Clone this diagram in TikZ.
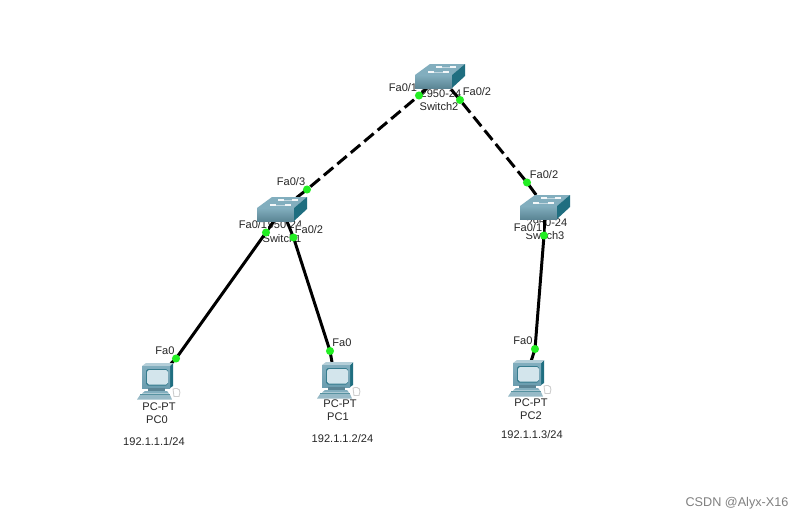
\documentclass[tikz,border=0pt]{standalone}
\usepackage{fontspec}
\setmainfont{Liberation Sans}
\definecolor{swfront}{HTML}{6B9DAF}
\definecolor{swtop}{HTML}{82AEBE}
\definecolor{swside}{HTML}{1F6E80}
\definecolor{pcscreen}{HTML}{D3E5EC}
\definecolor{portgreen}{HTML}{22EE22}

\tikzset{
  trunk/.style={line width=1.7pt, dash pattern=on 7pt off 3pt},
  access/.style={line width=1.7pt},
  port/.style={circle, fill=portgreen, inner sep=0pt, minimum size=4.6pt},
  tag/.style={font=\fontsize{6.3}{7}\selectfont, inner sep=0.6pt, text=black!85},
  ptag/.style={tag, fill=white},
  pics/switchicon/.style={code={
    \fill[swtop] (-0.5, 0.02) -- (-0.2, 0.24) -- (0.5, 0.24) -- (0.24, 0.02) -- cycle;
    \shade[top color=swtop, bottom color=swfront!85!black] (-0.5, 0.02) rectangle (0.24, -0.24);
    \fill[swside] (0.24, 0.02) -- (0.5, 0.24) -- (0.5, 0) -- (0.24, -0.24) -- cycle;
    \draw[white!50!swtop, line width=0.4pt] (-0.2, 0.08) -- (0.14, 0.08);
    \draw[white!50!swtop, line width=0.4pt] (-0.04, 0.18) -- (0.28, 0.18);
    \fill[white!90!swtop] (-0.24, 0.06) rectangle (-0.12, 0.1);
    \fill[white!90!swtop] (0.06, 0.06) rectangle (0.18, 0.1);
    \fill[white!90!swtop] (-0.08, 0.16) rectangle (0.04, 0.2);
    \fill[white!90!swtop] (0.2, 0.16) rectangle (0.32, 0.2);
  }},
  pics/pcicon/.style={code={
    \fill[swside] (0.3, 0.28) -- (0.36, 0.34) -- (0.36, -0.12) -- (0.3, -0.16) -- cycle;
    \fill[swtop!60!white] (-0.26, 0.28) -- (-0.18, 0.34) -- (0.36, 0.34) -- (0.3, 0.28) -- cycle;
    \shade[top color=swtop, bottom color=swfront] (-0.26, 0.28) rectangle (0.3, -0.16);
    \fill[swside!70!swfront, rounded corners=1pt] (-0.18, 0.22) rectangle (0.26, -0.11);
    \fill[pcscreen, rounded corners=1pt] (-0.16, 0.2) rectangle (0.26, -0.09);
    \fill[swfront!85!black] (-0.14, -0.16) rectangle (0.2, -0.22);
    \fill[swtop] (-0.2, -0.22) -- (0.24, -0.22) -- (0.28, -0.27) -- (-0.26, -0.27) -- cycle;
    \fill[swside!75!white] (-0.3, -0.27) rectangle (0.3, -0.3);
    \fill[swfront!70!white] (-0.3, -0.3) -- (0.3, -0.3) -- (0.34, -0.39) -- (-0.36, -0.39) -- cycle;
    \draw[black!20, line width=0.5pt, fill=white] (0.36, -0.18) .. controls (0.5, -0.14) and (0.52, -0.22) .. (0.48, -0.33) -- (0.38, -0.33) -- cycle;
  }},
}

\begin{document}
\begin{tikzpicture}
  \fill[white] (0, 0) rectangle (16.04, 10.38);
  \useasboundingbox (0, 0) rectangle (16.04, 10.38);

  % devices
  \coordinate (Switch2) at (8.80, 8.86);
  \coordinate (Switch1) at (5.64, 6.20);
  \coordinate (Switch3) at (10.90, 6.24);
  \coordinate (PC0) at (3.10, 2.78);
  \coordinate (PC1) at (6.70, 2.80);
  \coordinate (PC2) at (10.52, 2.84);

  % port lights
  \coordinate (sw2a) at (8.38, 8.47);
  \coordinate (sw2b) at (9.20, 8.38);
  \coordinate (sw1c) at (6.14, 6.59);
  \coordinate (sw3b) at (10.54, 6.73);
  \coordinate (sw1a) at (5.32, 5.73);
  \coordinate (sw1b) at (5.87, 5.63);
  \coordinate (pc0a) at (3.52, 3.21);
  \coordinate (pc1a) at (6.60, 3.36);
  \coordinate (sw3a) at (10.88, 5.67);
  \coordinate (pc2a) at (10.70, 3.40);

  % device names sit under the port labels
  \node[tag] (modelSw2) at (8.82, 8.50) {2950-24};
  \node[tag] (nameSw2) at (8.78, 8.24) {Switch2};
  \node[tag] (modelSw1) at (5.64, 5.88) {2950-24};
  \node[tag] (nameSw1) at (5.64, 5.60) {Switch1};
  \node[tag] (modelSw3) at (10.94, 5.92) {2950-24};
  \node[tag] (nameSw3) at (10.90, 5.66) {Switch3};
  \node[tag] (typePc0) at (3.18, 2.24) {PC-PT};
  \node[tag] (namePc0) at (3.14, 1.98) {PC0};
  \node[tag] (typePc1) at (6.80, 2.30) {PC-PT};
  \node[tag] (namePc1) at (6.76, 2.04) {PC1};
  \node[tag] (typePc2) at (10.62, 2.32) {PC-PT};
  \node[tag] (namePc2) at (10.62, 2.06) {PC2};

  % links
  \draw[trunk] (Switch2) -- (sw2a) -- (sw1c) -- (Switch1);
  \draw[trunk] (Switch2) -- (sw2b) -- (sw3b) -- (Switch3);
  \draw[access] (Switch1) -- (sw1a) -- (pc0a) -- (PC0);
  \draw[access] (Switch1) -- (sw1b) -- (pc1a) -- (PC1);
  \draw[access] (Switch3) -- (sw3a) -- (pc2a) -- (PC2);

  % port labels
  \node[ptag] (lblSw2a) at (8.06, 8.62) {Fa0/1};
  \node[ptag] (lblSw2b) at (9.54, 8.54) {Fa0/2};
  \node[ptag] (lblSw1c) at (5.82, 6.74) {Fa0/3};
  \node[ptag] (lblSw1a) at (5.06, 5.88) {Fa0/1};
  \node[ptag] (lblSw1b) at (6.18, 5.78) {Fa0/2};
  \node[ptag] (lblSw3b) at (10.88, 6.88) {Fa0/2};
  \node[ptag] (lblSw3a) at (10.56, 5.82) {Fa0/1};
  \node[tag] (lblPc0) at (3.30, 3.36) {Fa0};
  \node[tag] (lblPc1) at (6.84, 3.52) {Fa0};
  \node[tag] (lblPc2) at (10.46, 3.56) {Fa0};

  \pic at (Switch2) {switchicon};
  \pic at (Switch1) {switchicon};
  \pic at (Switch3) {switchicon};
  \pic at (PC0) {pcicon};
  \pic at (PC1) {pcicon};
  \pic at (PC2) {pcicon};

  \foreach \p in {sw2a, sw2b, sw1c, sw3b, sw1a, sw1b, pc0a, pc1a, sw3a, pc2a}
    \node[port] (dot-\p) at (\p) {};

  % addresses
  \node[tag] (ipPc0) at (3.08, 1.54) {192.1.1.1/24};
  \node[tag] (ipPc1) at (6.85, 1.60) {192.1.1.2/24};
  \node[tag] (ipPc2) at (10.64, 1.68) {192.1.1.3/24};

  \node[font=\fontsize{7.2}{8}\selectfont, text=black!50, inner sep=0pt] (mark) at (14.74, 0.32) {CSDN @Alyx-X16};
\end{tikzpicture}
\end{document}
